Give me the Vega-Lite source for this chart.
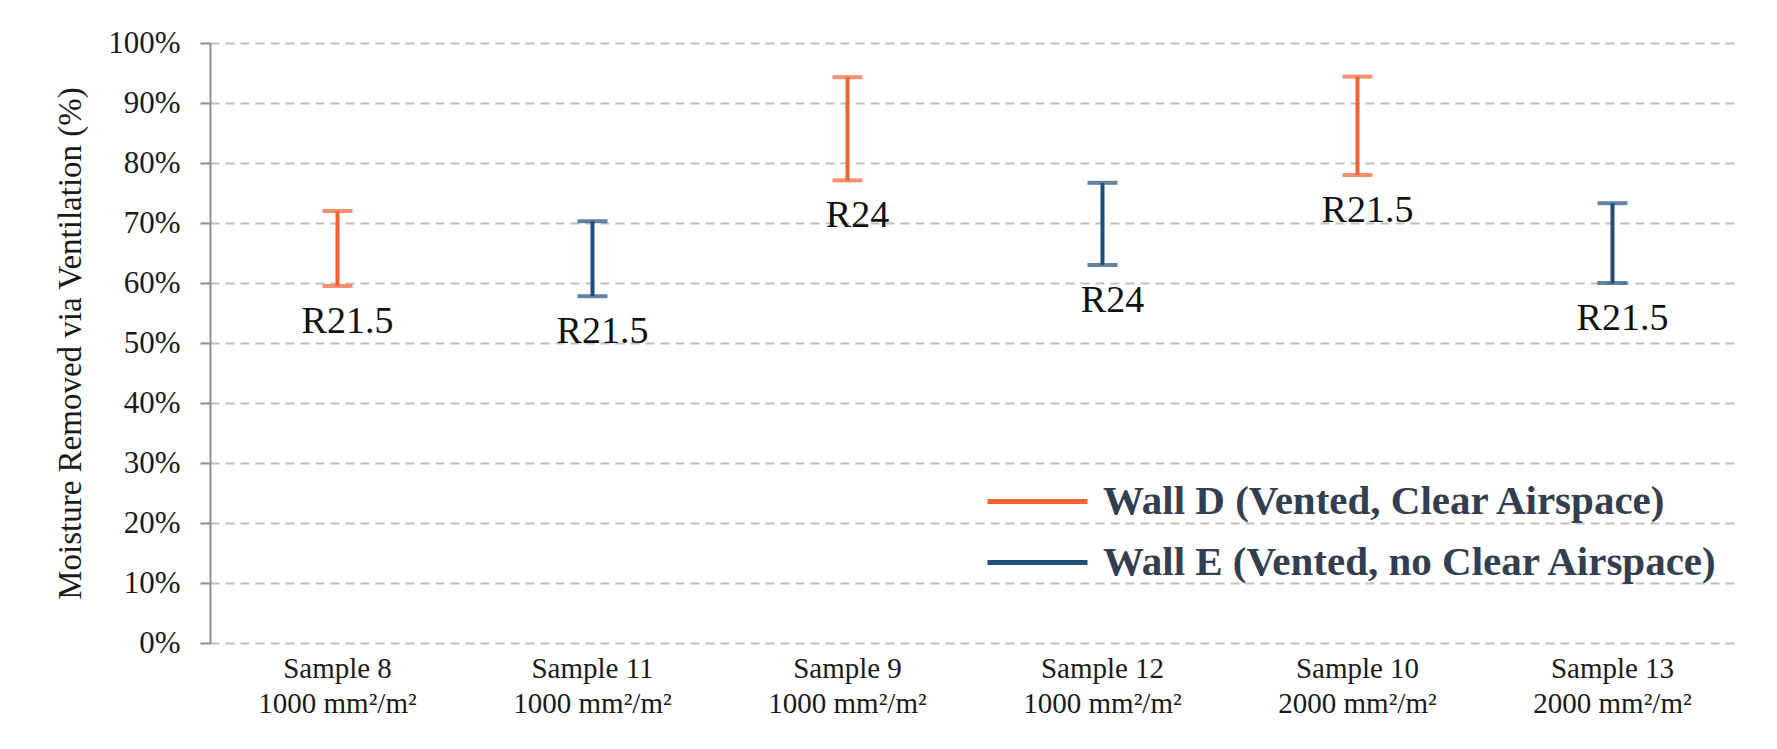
{
  "$schema": "https://vega.github.io/schema/vega-lite/v6.json",
  "width": 1530,
  "height": 600,
  "autosize": {"type": "none"},
  "padding": {"left": 210, "top": 43, "right": 37, "bottom": 106},
  "background": "white",
  "config": {"view": {"stroke": null}, "font": "Liberation Serif", "text": {"font": "Liberation Serif"}},
  "data": {"values": [
    {"cat": "Sample 8\n1000 mm²/m²", "wall": "Wall D (Vented, Clear Airspace)", "low": 0.595, "high": 0.72, "r": "R21.5"},
    {"cat": "Sample 11\n1000 mm²/m²", "wall": "Wall E (Vented, no Clear Airspace)", "low": 0.578, "high": 0.703, "r": "R21.5"},
    {"cat": "Sample 9\n1000 mm²/m²", "wall": "Wall D (Vented, Clear Airspace)", "low": 0.771, "high": 0.943, "r": "R24"},
    {"cat": "Sample 12\n1000 mm²/m²", "wall": "Wall E (Vented, no Clear Airspace)", "low": 0.63, "high": 0.767, "r": "R24"},
    {"cat": "Sample 10\n2000 mm²/m²", "wall": "Wall D (Vented, Clear Airspace)", "low": 0.78, "high": 0.944, "r": "R21.5"},
    {"cat": "Sample 13\n2000 mm²/m²", "wall": "Wall E (Vented, no Clear Airspace)", "low": 0.60, "high": 0.733, "r": "R21.5"}
  ]},
  "encoding": {
    "x": {
      "field": "cat", "type": "nominal", "sort": null,
      "scale": {"paddingInner": 0, "paddingOuter": 0},
      "axis": {
        "title": null, "domain": false, "ticks": false, "labelAngle": 0,
        "labelExpr": "split(datum.label, '\\n')",
        "labelFontSize": 29, "labelLineHeight": 35, "labelPadding": 11,
        "labelColor": "#1a1a1a", "labelFont": "Liberation Serif", "labelLimit": 400
      }
    }
  },
  "layer": [
    {
      "mark": {"type": "rule", "strokeWidth": 4},
      "encoding": {
        "y": {
          "field": "low", "type": "quantitative",
          "scale": {"domain": [0, 1]},
          "axis": {
            "values": [0, 0.1, 0.2, 0.3, 0.4, 0.5, 0.6, 0.7, 0.8, 0.9, 1],
            "format": ".0%",
            "domain": true, "domainColor": "#8C8C8C", "domainWidth": 2,
            "ticks": true, "tickColor": "#8C8C8C", "tickSize": 10, "tickWidth": 2,
            "grid": true, "gridDash": [9, 6], "gridColor": "#C0C0C0", "gridWidth": 2,
            "labelFontSize": 31, "labelColor": "#1a1a1a", "labelPadding": 20, "labelFont": "Liberation Serif",
            "title": "Moisture Removed via  Ventilation (%)",
            "titleFontSize": 33, "titleFontWeight": "normal", "titleColor": "#1a1a1a",
            "titleFont": "Liberation Serif", "titlePadding": 20
          }
        },
        "y2": {"field": "high"},
        "color": {
          "field": "wall", "type": "nominal",
          "scale": {
            "domain": ["Wall D (Vented, Clear Airspace)", "Wall E (Vented, no Clear Airspace)"],
            "range": ["#F26130", "#1F4E79"]
          },
          "legend": {
            "title": null, "orient": "none", "legendX": 775, "legendY": 428,
            "symbolType": "stroke", "symbolSize": 10000, "symbolStrokeWidth": 5,
            "labelFontSize": 41, "labelFont": "Liberation Serif", "labelFontWeight": "bold",
            "labelColor": "#333F50", "rowPadding": 0, "clipHeight": 61, "labelLimit": 900, "labelOffset": 13
          }
        }
      }
    },
    {
      "mark": {"type": "tick", "thickness": 4, "size": 30},
      "encoding": {
        "y": {"field": "low", "type": "quantitative"},
        "color": {"field": "wall", "type": "nominal", "legend": null}
      }
    },
    {
      "mark": {"type": "tick", "thickness": 4, "size": 30},
      "encoding": {
        "y": {"field": "high", "type": "quantitative"},
        "color": {"field": "wall", "type": "nominal", "legend": null}
      }
    },
    {
      "mark": {"type": "text", "fontSize": 38, "font": "Liberation Serif", "color": "#111111", "dy": 36, "dx": 10, "baseline": "middle"},
      "encoding": {
        "y": {"field": "low", "type": "quantitative"},
        "text": {"field": "r"}
      }
    }
  ]
}
